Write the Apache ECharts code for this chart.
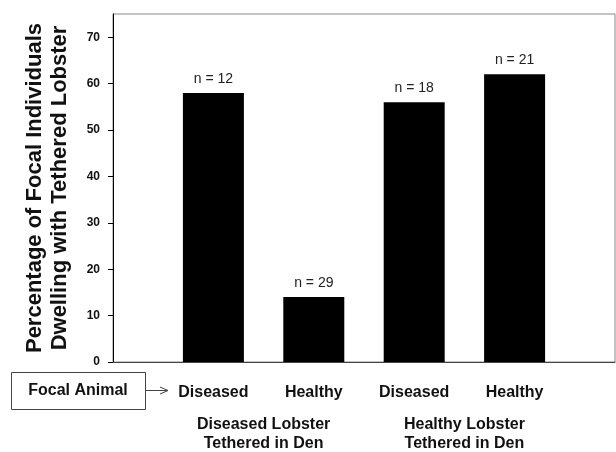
<!DOCTYPE html>
<html>
<head>
<meta charset="utf-8">
<script src="https://cdn.jsdelivr.net/npm/echarts@6/dist/echarts.min.js"></script>
<style>
html,body{margin:0;padding:0;background:#fff;}
#chart{width:616px;height:452px;}
</style>
</head>
<body>
<div id="chart"></div>
<script>
// ---- data ----
const categories = ['Diseased', 'Healthy', 'Diseased', 'Healthy'];
const values = [58, 14, 56, 62];
const nLabels = ['n = 12', 'n = 29', 'n = 18', 'n = 21'];
const groupLabels = ['Diseased Lobster\nTethered in Den', 'Healthy Lobster\nTethered in Den'];
const yTicks = [0, 10, 20, 30, 40, 50, 60, 70];
const yTitle = 'Percentage of Focal Individuals\nDwelling with Tethered Lobster';
const focalLabel = 'Focal Animal';

const FONT = 'Arial, "Liberation Sans", Helvetica, sans-serif';
const axisData = [''].concat(categories, ['']);
const seriesData = [null].concat(values, [null]);

const chart = echarts.init(document.getElementById('chart'), null, {renderer: 'canvas'});
const option = {
  animation: false,
  backgroundColor: '#fff',
  grid: {
    left: 113, right: 1, top: 14, bottom: 90,
    containLabel: false, outerBoundsMode: 'none',
    show: true, borderColor: '#888', borderWidth: 1, backgroundColor: 'transparent'
  },
  xAxis: {
    type: 'category',
    data: axisData,
    boundaryGap: false,
    axisLine: {lineStyle: {color: '#444', width: 1}},
    axisTick: {show: false},
    axisLabel: {
      margin: 23, fontFamily: FONT, fontSize: 16, fontWeight: 'bold', color: '#111',
      interval: 0
    },
    splitLine: {show: false}
  },
  yAxis: {
    type: 'value',
    min: 0, max: 75,
    axisLine: {show: true, lineStyle: {color: '#000', width: 1}},
    axisTick: {show: true, length: 5, inside: false, customValues: yTicks, lineStyle: {color: '#000'}},
    axisLabel: {customValues: yTicks, margin: 13, fontFamily: FONT, fontSize: 12, fontWeight: 'bold', color: '#111'},
    splitLine: {show: false},
    name: yTitle,
    nameLocation: 'middle',
    nameRotate: 90,
    nameGap: 41,
    nameTruncate: {maxWidth: 1000},
    nameTextStyle: {fontFamily: FONT, fontSize: 22, fontWeight: 'bold', color: '#111', lineHeight: 25, align: 'center', overflow: 'none', width: 1000}
  },
  series: [{
    type: 'bar',
    data: seriesData,
    barWidth: 61,
    itemStyle: {color: '#000'},
    label: {
      show: true, position: 'top', distance: 7,
      fontFamily: FONT, fontSize: 14, color: '#222',
      formatter: p => nLabels[p.dataIndex - 1] || ''
    }
  }]
};
chart.setOption(option);

// group labels positioned from the axis scale
const px = i => chart.convertToPixel({xAxisIndex: 0}, i);
const zeroY = chart.convertToPixel({yAxisIndex: 0}, 0);
const g1 = (px(1) + px(2)) / 2;
const g2 = (px(3) + px(4)) / 2;
chart.setOption({
  graphic: [
    {type: 'text', x: g1, y: zeroY + 53, style: {text: groupLabels[0], font: 'bold 16px ' + FONT, fill: '#111', textAlign: 'center', textVerticalAlign: 'top', lineHeight: 19}},
    {type: 'text', x: g2, y: zeroY + 53, style: {text: groupLabels[1], font: 'bold 16px ' + FONT, fill: '#111', textAlign: 'center', textVerticalAlign: 'top', lineHeight: 19}},
    {type: 'rect', shape: {x: 11.5, y: 372.5, width: 134, height: 37}, style: {fill: '#fff', stroke: '#444', lineWidth: 1}},
    {type: 'text', x: 78, y: 391, style: {text: focalLabel, font: 'bold 16px ' + FONT, fill: '#111', textAlign: 'center', textVerticalAlign: 'middle'}},
    {type: 'line', shape: {x1: 145, y1: 390.5, x2: 168, y2: 390.5}, style: {stroke: '#444', lineWidth: 1}},
    {type: 'polyline', shape: {points: [[160, 387], [168, 390.5], [160, 394]]}, style: {stroke: '#444', fill: 'none', lineWidth: 1}}
  ]
});
</script>
</body>
</html>
